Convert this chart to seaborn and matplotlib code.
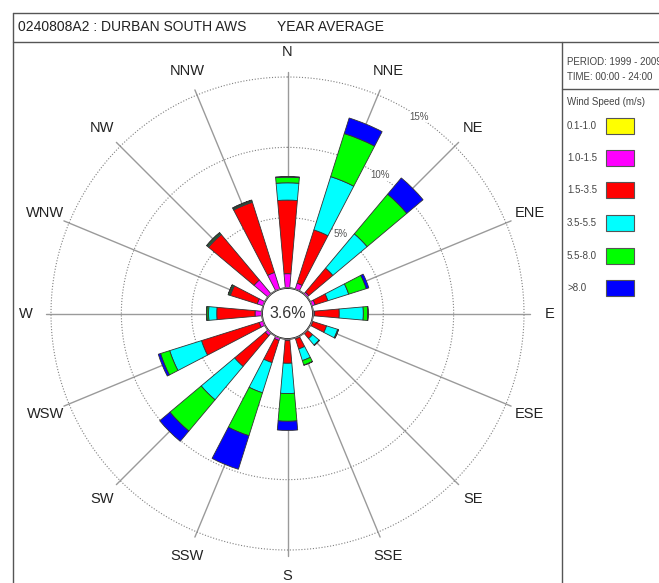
import numpy as np
import matplotlib
matplotlib.use("Agg")
import matplotlib.pyplot as plt
import seaborn as sns
from matplotlib.lines import Line2D
from matplotlib.patches import Rectangle, Circle

# ---------------- data ----------------
directions = ["N", "NNE", "NE", "ENE", "E", "ESE", "SE", "SSE",
              "S", "SSW", "SW", "WSW", "W", "WNW", "NW", "NNW"]
speed_labels = ["0.1-1.0", "1.0-1.5", "1.5-3.5", "3.5-5.5", "5.5-8.0", ">8.0"]
speed_colors = ["#FFFF00", "#FF00FF", "#FF0000", "#00FFFF", "#00FF00", "#0000FF"]

# frequency (%) per direction for each speed class
s_0p1_1p0 = [0.02, 0.02, 0.02, 0.02, 0.02, 0.01, 0.01, 0.01,
             0.02, 0.02, 0.02, 0.02, 0.02, 0.02, 0.02, 0.02]
s_1p0_1p5 = [1.00, 0.43, 0.15, 0.23, 0.10, 0.07, 0.05, 0.07,
             0.10, 0.18, 0.23, 0.28, 0.48, 0.43, 1.28, 1.23]
s_1p5_3p5 = [5.23, 3.97, 2.23, 0.95, 1.75, 1.02, 0.46, 0.75,
             1.61, 1.65, 2.85, 4.30, 2.72, 2.00, 4.22, 5.23]
s_3p5_5p5 = [1.23, 3.97, 3.18, 1.55, 1.71, 0.83, 0.60, 0.87,
             2.15, 2.25, 3.10, 2.37, 0.58, 0.07, 0.08, 0.07]
s_5p5_8p0 = [0.40, 3.21, 3.68, 1.31, 0.32, 0.05, 0.03, 0.33,
             1.97, 3.20, 2.90, 0.68, 0.12, 0.08, 0.08, 0.07]
s_gt_8p0 = [0.05, 1.16, 1.51, 0.19, 0.03, 0.01, 0.00, 0.02,
            0.65, 2.50, 0.95, 0.17, 0.03, 0.02, 0.02, 0.03]

calm_text = "3.6%"
ring_values = [5, 10, 15]
title_station = "0240808A2 : DURBAN SOUTH AWS"
title_period = "YEAR AVERAGE"
period_text = "PERIOD: 1999 - 2009"
time_text = "TIME: 00:00 - 24:00"
legend_title = "Wind Speed (m/s)"

# ---------------- style ----------------
sns.set_theme(style="white")
plt.rcParams['font.family'] = ['Liberation Sans', 'DejaVu Sans']

W, H = 659, 583
fig = plt.figure(figsize=(W / 100, H / 100), dpi=100)
fig.patch.set_facecolor("white")


def fx(x):
    return x / W


def fy(y):
    return 1 - y / H


cx, cy = 287.5, 313.5     # rose centre (px)
R = 242                   # axes radius (px)
r_calm = 1.81             # calm circle offset in % units
rmax = 15.39

ax = fig.add_axes([(cx - R) / W, (H - cy - R) / H, 2 * R / W, 2 * R / H],
                  projection="polar")
ax.set_theta_zero_location("N")
ax.set_theta_direction(-1)
ax.set_rlim(0, rmax)
ax.set_rorigin(-r_calm)
ax.grid(False)
ax.set_xticks([])
ax.set_yticks([])
ax.spines["polar"].set_visible(False)
ax.set_facecolor("none")

thetas = np.deg2rad(np.arange(len(directions)) * 22.5)

# spokes
for th in thetas:
    ax.plot([th, th], [0, rmax], color="#9a9a9a", lw=1.0, zorder=1, clip_on=False)

# rings
tt = np.linspace(0, 2 * np.pi, 600)
for rv in ring_values:
    ax.plot(tt, np.full_like(tt, rv), ls=(0, (1, 1.6)), color="#808080",
            lw=0.8, zorder=1)

# stacked bars
series = [s_0p1_1p0, s_1p0_1p5, s_1p5_3p5, s_3p5_5p5, s_5p5_8p0, s_gt_8p0]
bottom = np.zeros(len(directions))
for vals, col in zip(series, speed_colors):
    vals = np.asarray(vals)
    ax.bar(thetas, vals, width=np.deg2rad(10), bottom=bottom, color=col,
           edgecolor="#333333", linewidth=0.6, zorder=3, align="center")
    bottom = bottom + vals

# calm circle
ax.add_patch(Circle((0.5, 0.5), 25.7 / (2 * R), transform=ax.transAxes,
                    facecolor="white", edgecolor="#777777", lw=0.8, zorder=5))
ax.text(0.5, 0.5, calm_text, transform=ax.transAxes, ha="center", va="center",
        fontsize=11.5, color="#333333", zorder=6)

# direction labels
label_r = 262 / (R / (rmax + r_calm)) - r_calm
for th, d in zip(thetas, directions):
    ax.text(th, label_r, d, ha="center", va="center", fontsize=10.5,
            color="#222222", clip_on=False)

# ring labels
for rv in ring_values:
    ax.text(np.deg2rad(33.75), rv, f"{rv}%", ha="center", va="center",
            fontsize=7, color="#555555", zorder=2,
            bbox=dict(facecolor="white", edgecolor="none", pad=0.3))

# ---------------- frame ----------------
def hline(y, x1, x2):
    fig.add_artist(Line2D([fx(x1), fx(x2)], [fy(y), fy(y)], color="#555555",
                          lw=1.0, transform=fig.transFigure))


def vline(x, y1, y2):
    fig.add_artist(Line2D([fx(x), fx(x)], [fy(y1), fy(y2)], color="#555555",
                          lw=1.0, transform=fig.transFigure))


hline(13, 13, W)
hline(42, 13, W)
vline(13, 13, H)
vline(562, 42, H)
hline(89, 562, W)

fig.text(fx(18), fy(27), title_station, fontsize=10, color="#222222",
         ha="left", va="center")
fig.text(fx(277), fy(27), title_period, fontsize=10, color="#222222",
         ha="left", va="center")

# ---------------- legend ----------------
fig.text(fx(567), fy(62), period_text, fontsize=7, color="#444444",
         ha="left", va="center")
fig.text(fx(567), fy(77), time_text, fontsize=7, color="#444444",
         ha="left", va="center")
fig.text(fx(567), fy(102), legend_title, fontsize=7, color="#444444",
         ha="left", va="center")

item_y = [126, 158, 190, 223, 256, 288]
for lab, col, yy in zip(speed_labels, speed_colors, item_y):
    fig.text(fx(567), fy(yy), lab, fontsize=7, color="#444444",
             ha="left", va="center")
    fig.add_artist(Rectangle((fx(606), fy(yy + 8)), 28 / W, 16 / H,
                             facecolor=col, edgecolor="#555555", lw=0.8,
                             transform=fig.transFigure))

fig.savefig("out.png", dpi=100, facecolor="white")
